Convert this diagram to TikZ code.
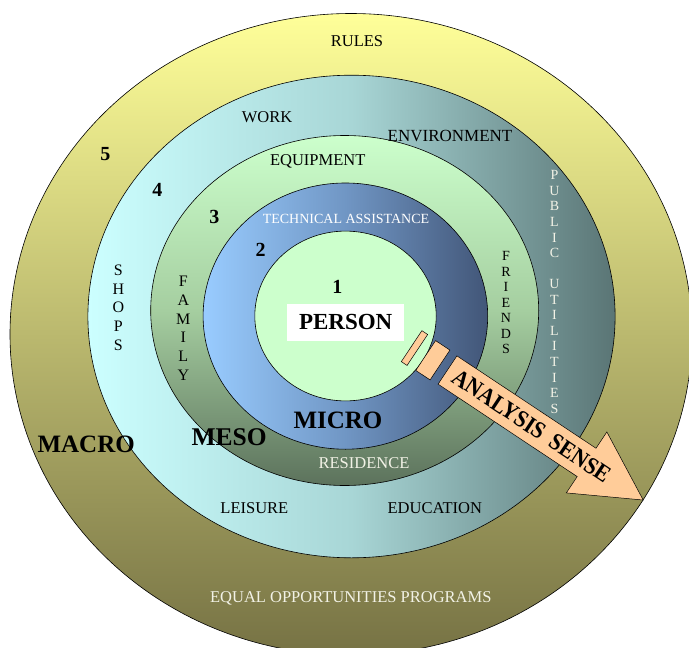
\documentclass[tikz,border=0pt]{standalone}
\usepackage{fontspec}
\setmainfont{Liberation Serif}
\definecolor{cFt}{RGB}{255,255,153}
\definecolor{cFb}{RGB}{118,114,68}
\definecolor{cFl}{RGB}{204,255,255}
\definecolor{cFm}{RGB}{168,214,214}
\definecolor{cFr}{RGB}{90,117,117}
\definecolor{cTt}{RGB}{204,255,204}
\definecolor{cTm}{RGB}{165,206,160}
\definecolor{cTb}{RGB}{92,114,92}
\definecolor{cBl}{RGB}{153,204,255}
\definecolor{cBm}{RGB}{112,150,196}
\definecolor{cBr}{RGB}{66,86,120}
\definecolor{cOne}{RGB}{204,255,204}
\definecolor{peachc}{RGB}{255,204,153}
\definecolor{offwhite}{RGB}{242,242,230}
\begin{document}
\begin{tikzpicture}[x=1pt,y=-1pt,
  ringline/.style={draw=black, line width=0.6pt},
  lab/.style={anchor=base, inner sep=0pt, font=\fontsize{16.5}{18}\selectfont},
  wlab/.style={lab, text=offwhite},
  num/.style={anchor=base, inner sep=0pt, font=\bfseries\fontsize{20}{22}\selectfont},
  big/.style={anchor=base, inner sep=0pt, font=\bfseries\fontsize{25}{28}\selectfont},
  vstack/.style={align=center, inner sep=0pt, font=\fontsize{16}{18.7}\selectfont},
  vsmall/.style={align=center, inner sep=0pt, font=\fontsize{14}{15.55}\selectfont},
  peach/.style={fill=peachc, draw=black, line width=0.5pt}]
\path[use as bounding box] (0,0) rectangle (689,648);
\fill[white] (0,0) rectangle (689,648);
\begin{scope}
\clip (0,0) rectangle (689,648);
\shadedraw[ringline, top color=cFt, bottom color=cFb] (351,334.3) ellipse [x radius=341pt, y radius=320.8pt];
\end{scope}
\shadedraw[ringline, left color=cFl, right color=cFr, middle color=cFm] (351.5,316.5) ellipse [x radius=263.6pt, y radius=241.3pt];
\shadedraw[ringline, top color=cTt, bottom color=cTb, middle color=cTm] (344.7,310.5) ellipse [x radius=194pt, y radius=175pt];
\shadedraw[ringline, left color=cBl, right color=cBr, middle color=cBm] (345.4,316.1) ellipse [x radius=142.3pt, y radius=133.1pt];
\filldraw[ringline, fill=cOne] (345.5,316) ellipse [x radius=90.7pt, y radius=84.9pt];

% arrow and bars
\begin{scope}[shift={(447.5,370)}, rotate=-33.6]
\filldraw[peach] (-43.1,-18.6) rectangle (-36.2,18.6);
\filldraw[peach] (-26.2,-17.9) rectangle (-9,17.9);
\filldraw[peach] (0,-17) -- (167,-17) -- (167,-36.6) -- (235,0) -- (167,36.6) -- (167,17) -- (0,17) -- cycle;
\end{scope}
\node[rotate=-33.6, inner sep=0pt, font=\bfseries\fontsize{24}{26}\selectfont] (sense) at (531.8,426) {\scalebox{0.9}[1]{ANALYSIS\hspace{0.45em}SENSE}};

% labels
\node[lab] (rules) at (357,46.2) {RULES};
\node[lab] (work) at (267,122.2) {WORK};
\node[lab, font=\fontsize{17}{18}\selectfont] (env) at (450,141.2) {ENVIRONMENT};
\node[lab] (equip) at (317.7,165.5) {EQUIPMENT};
\node[lab, text=white, font=\fontsize{14}{16}\selectfont] (tech) at (346,223) {TECHNICAL ASSISTANCE};
\node[wlab] (resid) at (364,468.8) {RESIDENCE};
\node[lab] (leisure) at (254.4,513.2) {LEISURE};
\node[lab] (educ) at (434.8,513.2) {EDUCATION};
\node[wlab] (equal) at (350.8,602.2) {EQUAL OPPORTUNITIES PROGRAMS};

\node[num] (n5) at (105.3,160.1) {5};
\node[num] (n4) at (157.3,196.8) {4};
\node[num] (n3) at (214.3,223.5) {3};
\node[num] (n2) at (260.7,256.8) {2};
\node[num] (n1) at (337.3,293.5) {1};

\node[big] (macro) at (86.2,452.5) {MACRO};
\node[big, font=\bfseries\fontsize{25.5}{28}\selectfont] (meso) at (229.2,445.8) {MESO};
\node[big] (micro) at (338,428.5) {MICRO};

\node[fill=white, minimum width=116.7pt, minimum height=36.7pt, inner sep=0pt, font=\bfseries\fontsize{23}{25}\selectfont] (person) at (345.7,322.4) {PERSON};

\node[vstack] (shops) at (118.3,307.5) {S\\H\\O\\P\\S};
\node[vstack] (family) at (183.3,328.3) {F\\A\\M\\I\\L\\Y};
\node[vsmall] (friends) at (506,302.7) {F\\R\\I\\E\\N\\D\\S};
\node[vsmall, text=offwhite] (public) at (554.5,292) {P\\U\\B\\L\\I\\C\\[15.55pt]U\\T\\I\\L\\I\\T\\I\\E\\S};
\end{tikzpicture}
\end{document}
